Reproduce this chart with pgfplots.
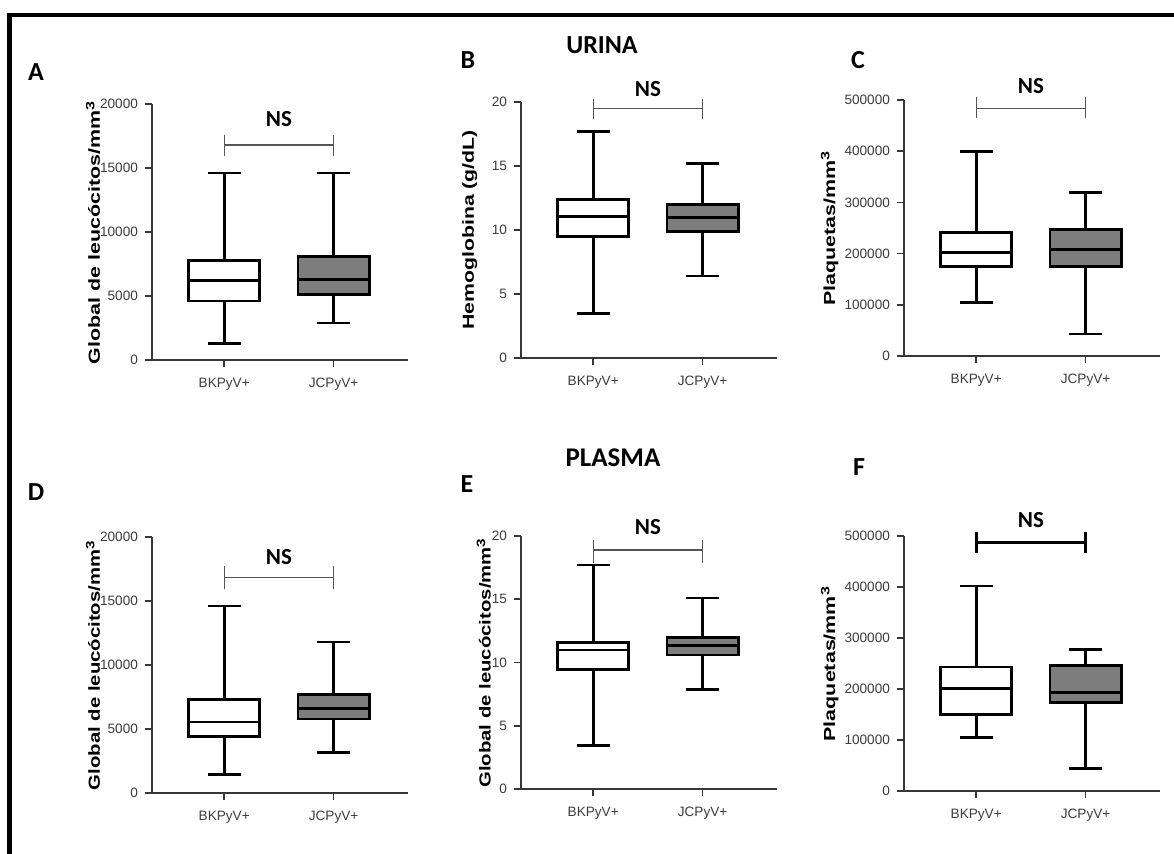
\documentclass[border=0pt]{standalone}
\usepackage{pgfplots}
\pgfplotsset{compat=1.18}
\usepgfplotslibrary{statistics}
\usepackage{graphicx}
\usepackage{fontspec}
\setmainfont{Liberation Sans}
\newfontfamily\calfont{Carlito}
\definecolor{boxgray}{RGB}{125,125,125}
\definecolor{axgray}{RGB}{55,55,55}
\definecolor{tgray}{RGB}{60,60,60}
\definecolor{brgray}{RGB}{85,85,85}
\pgfplotsset{
  panel/.style={
    scale only axis, width=128pt, height=128pt,
    axis lines=left, axis line style={-, line width=0.8pt, draw=axgray},
    xmin=0.34, xmax=2.68, ymin=0,
    xtick={1,2}, xticklabels={BKPyV+, JCPyV+},
    tick align=outside, major tick length=3.5pt,
    tick style={line width=0.8pt, draw=axgray},
    ticklabel style={font=\fontsize{6.8}{7}\selectfont, text=tgray},
    xticklabel style={yshift=-2pt},
    /pgf/number format/assume math mode=true,
    /pgf/number format/fixed,
    /pgf/number format/1000 sep={},
    scaled y ticks=false,
    clip=false,
    anchor=south west,
    boxplot/draw direction=y,
    boxplot/every median/.style={line width=1.35pt},
    boxplot/every box/.style={line width=1.35pt},
    boxplot/every whisker/.style={line width=1.35pt},
    ylabel style={font=\bfseries\fontsize{8}{9}\selectfont, anchor=center},
  },
  bk/.style={draw=black, fill=white, line width=1.35pt, solid},
  jc/.style={draw=black, fill=boxgray, line width=1.35pt, solid},
}
\newcommand{\nslabel}[2]{\node[font=\calfont\bfseries\fontsize{11.5}{12}\selectfont] at (axis cs:1.5,#1) {NS};}
\begin{document}
\begin{tikzpicture}
\useasboundingbox (0,0) rectangle (587pt,426.5pt);
\fill[white] (0,0) rectangle (587pt,426.5pt);
\draw[line width=2.2pt] (4.75pt,-2pt) -- (4.75pt,419pt) -- (590pt,419pt);

% Panel A
\begin{axis}[panel, at={(76pt,246.5pt)}, ymax=20000, ytick={0,5000,10000,15000,20000},
  ylabel={\scalebox{1.34}[1]{Global de leucócitos/mm\textsuperscript{3}}},
  ylabel style={at={(axis description cs:-0.23,0.5)}}]
\addplot[bk, boxplot prepared={draw position=1, box extend=0.65, whisker extend=0.3,
  median=6200, upper quartile=7800, lower quartile=4600, upper whisker=14600, lower whisker=1300}] coordinates {};
\addplot[jc, boxplot prepared={draw position=2, box extend=0.65, whisker extend=0.3,
  median=6300, upper quartile=8100, lower quartile=5100, upper whisker=14600, lower whisker=2900}] coordinates {};
\draw[brgray, line width=0.6pt] (axis cs:1,15900) -- (axis cs:1,17600) (axis cs:1,16800) -- (axis cs:2,16800) (axis cs:2,15900) -- (axis cs:2,17600);
\nslabel{18850}{}
\end{axis}

% Panel B
\begin{axis}[panel, at={(260.5pt,247.5pt)}, ymax=20, ytick={0,5,10,15,20},
  ylabel={\scalebox{1.33}[1]{Hemoglobina (g/dL)}},
  ylabel style={at={(axis description cs:-0.2,0.5)}}]
\addplot[bk, boxplot prepared={draw position=1, box extend=0.65, whisker extend=0.3,
  median=11.05, upper quartile=12.4, lower quartile=9.5, upper whisker=17.7, lower whisker=3.5}] coordinates {};
\addplot[jc, boxplot prepared={draw position=2, box extend=0.65, whisker extend=0.3,
  median=10.95, upper quartile=12.0, lower quartile=9.9, upper whisker=15.2, lower whisker=6.4}] coordinates {};
\draw[brgray, line width=0.6pt] (axis cs:1,18.7) -- (axis cs:1,20.2) (axis cs:1,19.5) -- (axis cs:2,19.5) (axis cs:2,18.7) -- (axis cs:2,20.2);
\nslabel{21.0}{}
\end{axis}

% Panel C
\begin{axis}[panel, at={(452pt,248.5pt)}, ymax=500000, ytick={0,100000,200000,300000,400000,500000},
  ylabel={\scalebox{1.34}[1]{Plaquetas/mm\textsuperscript{3}}},
  ylabel style={at={(axis description cs:-0.29,0.5)}}]
\addplot[bk, boxplot prepared={draw position=1, box extend=0.65, whisker extend=0.3,
  median=202500, upper quartile=241000, lower quartile=174500, upper whisker=400000, lower whisker=104000}] coordinates {};
\addplot[jc, boxplot prepared={draw position=2, box extend=0.65, whisker extend=0.3,
  median=208000, upper quartile=247000, lower quartile=174500, upper whisker=319000, lower whisker=43000}] coordinates {};
\draw[brgray, line width=0.6pt] (axis cs:1,464000) -- (axis cs:1,506000) (axis cs:1,484000) -- (axis cs:2,484000) (axis cs:2,464000) -- (axis cs:2,506000);
\nslabel{527000}{}
\end{axis}

% Panel D
\begin{axis}[panel, at={(76pt,30pt)}, ymax=20000, ytick={0,5000,10000,15000,20000},
  ylabel={\scalebox{1.27}[1]{Global de leucócitos/mm\textsuperscript{3}}},
  ylabel style={at={(axis description cs:-0.23,0.5)}}]
\addplot[bk, boxplot prepared={draw position=1, box extend=0.65, whisker extend=0.3,
  median=5550, upper quartile=7300, lower quartile=4400, upper whisker=14600, lower whisker=1430}] coordinates {};
\addplot[jc, boxplot prepared={draw position=2, box extend=0.65, whisker extend=0.3,
  median=6600, upper quartile=7700, lower quartile=5780, upper whisker=11800, lower whisker=3180}] coordinates {};
\draw[brgray, line width=0.6pt] (axis cs:1,15900) -- (axis cs:1,17700) (axis cs:1,16850) -- (axis cs:2,16850) (axis cs:2,15900) -- (axis cs:2,17700);
\nslabel{18450}{}
\end{axis}

% Panel E
\begin{axis}[panel, at={(260.5pt,32pt)}, height=126.5pt, ymax=20, ytick={0,5,10,15,20},
  ylabel={\scalebox{1.27}[1]{Global de leucócitos/mm\textsuperscript{3}}},
  ylabel style={at={(axis description cs:-0.145,0.5)}}]
\addplot[bk, boxplot prepared={draw position=1, box extend=0.65, whisker extend=0.3,
  median=11.0, upper quartile=11.6, lower quartile=9.47, upper whisker=17.7, lower whisker=3.45}] coordinates {};
\addplot[jc, boxplot prepared={draw position=2, box extend=0.65, whisker extend=0.3,
  median=11.35, upper quartile=12.0, lower quartile=10.6, upper whisker=15.1, lower whisker=7.85}] coordinates {};
\draw[brgray, line width=0.6pt] (axis cs:1,17.9) -- (axis cs:1,19.7) (axis cs:1,18.9) -- (axis cs:2,18.9) (axis cs:2,17.9) -- (axis cs:2,19.7);
\nslabel{20.7}{}
\end{axis}

% Panel F
\begin{axis}[panel, at={(452pt,31pt)}, height=127.5pt, ymax=500000, ytick={0,100000,200000,300000,400000,500000},
  ylabel={\scalebox{1.34}[1]{Plaquetas/mm\textsuperscript{3}}},
  ylabel style={at={(axis description cs:-0.29,0.5)}}]
\addplot[bk, boxplot prepared={draw position=1, box extend=0.65, whisker extend=0.3,
  median=201000, upper quartile=243000, lower quartile=150500, upper whisker=402000, lower whisker=105000}] coordinates {};
\addplot[jc, boxplot prepared={draw position=2, box extend=0.65, whisker extend=0.3,
  median=193000, upper quartile=246000, lower quartile=173000, upper whisker=277000, lower whisker=44000}] coordinates {};
\draw[black, line width=1.3pt] (axis cs:1,466000) -- (axis cs:1,508000) (axis cs:1,487000) -- (axis cs:2,487000) (axis cs:2,466000) -- (axis cs:2,508000);
\nslabel{531000}{}
\end{axis}

% Panel letters and titles
\begin{scope}[every node/.style={font=\calfont\bfseries\fontsize{13}{14}\selectfont}]
\node at (18pt,390.5pt) {A};
\node at (234pt,396.5pt) {B};
\node at (429pt,396.5pt) {C};
\node at (18pt,180.5pt) {D};
\node at (233.5pt,184.5pt) {E};
\node at (429.5pt,193pt) {F};
\end{scope}
\node[font=\calfont\bfseries\fontsize{13}{14}\selectfont] at (301pt,404pt) {URINA};
\node[font=\calfont\bfseries\fontsize{13.5}{14}\selectfont] at (306.5pt,197.5pt) {PLASMA};
\end{tikzpicture}
\end{document}
